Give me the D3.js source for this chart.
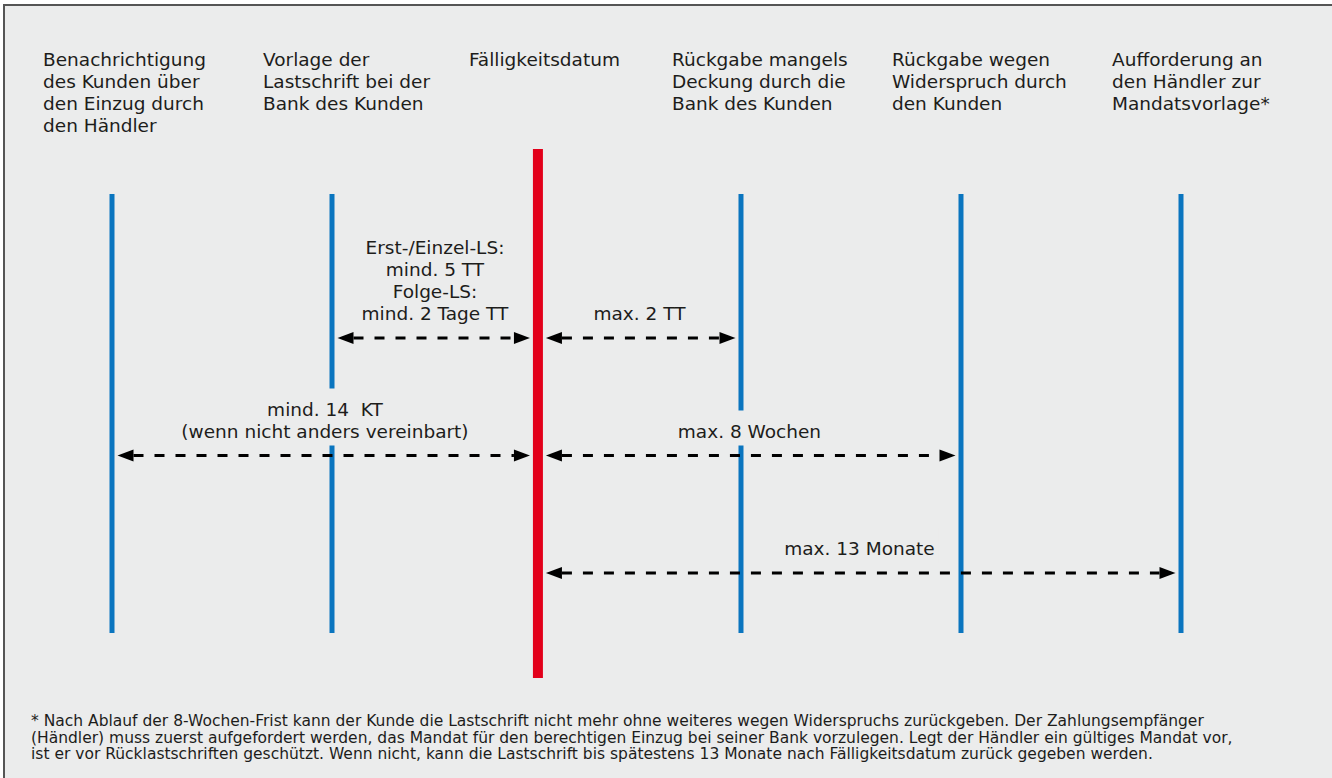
<!DOCTYPE html>
<html>
<head>
<meta charset="utf-8">
<script src="https://cdn.jsdelivr.net/npm/d3@7/dist/d3.min.js"></script>
<style>
  body { margin: 0; background: #fff; }
  text { font-family: "DejaVu Sans", sans-serif; fill: #1d1d1b; }
</style>
</head>
<body>
<svg id="chart"></svg>
<script>
// events on the timeline (relative position)
var eventPos = [0, 1, 1.936, 2.859, 3.859, 4.859];
var eventKind = ["blue", "blue", "red", "blue", "blue", "blue"];
var headers = [
  ["Benachrichtigung", "des Kunden über", "den Einzug durch", "den Händler"],
  ["Vorlage der", "Lastschrift bei der", "Bank des Kunden"],
  ["Fälligkeitsdatum"],
  ["Rückgabe mangels", "Deckung durch die", "Bank des Kunden"],
  ["Rückgabe wegen", "Widerspruch durch", "den Kunden"],
  ["Aufforderung an", "den Händler zur", "Mandatsvorlage*"]
];
// periods between events
var spanFrom = [1, 2, 0, 2, 2];
var spanTo = [2, 3, 2, 4, 5];
var spanRow = [0, 0, 1, 1, 2];
var spanLabels = [
  ["Erst-/Einzel-LS:", "mind. 5 TT", "Folge-LS:", "mind. 2 Tage TT"],
  ["max. 2 TT"],
  ["mind. 14  KT", "(wenn nicht anders vereinbart)"],
  ["max. 8 Wochen"],
  ["max. 13 Monate"]
];
var footnote = [
  "* Nach Ablauf der 8-Wochen-Frist kann der Kunde die Lastschrift nicht mehr ohne weiteres wegen Widerspruchs zurückgeben. Der Zahlungsempfänger",
  "(Händler) muss zuerst aufgefordert werden, das Mandat für den berechtigen Einzug bei seiner Bank vorzulegen. Legt der Händler ein gültiges Mandat vor,",
  "ist er vor Rücklastschriften geschützt. Wenn nicht, kann die Lastschrift bis spätestens 13 Monate nach Fälligkeitsdatum zurück gegeben werden."
];

var W = 1332, H = 778;
var bg = "#ebecec";
var colors = { blue: "#0a75bf", red: "#e2001a" };
var widths = { blue: 5, red: 10 };
var extent = { blue: [194, 633], red: [149, 678] };

var svg = d3.select("#chart").attr("width", W).attr("height", H);

// frame (right and bottom edges run off the picture)
svg.append("rect")
    .attr("x", 4).attr("y", 5)
    .attr("width", W + 50).attr("height", H + 50)
    .attr("fill", bg)
    .attr("stroke", "#555")
    .attr("stroke-width", 2);

var x = d3.scaleLinear().domain([0, 4.859]).range([112, 1181]);
var rowY = d3.scaleLinear().domain([0, 2]).range([338, 573]);

var events = eventPos.map(function(p, i) {
  return { pos: p, kind: eventKind[i], header: headers[i] };
});

// blue event lines first
svg.append("g").selectAll("line")
    .data(events.filter(function(d) { return d.kind == "blue"; }))
  .enter().append("line")
    .attr("x1", function(d) { return x(d.pos); })
    .attr("x2", function(d) { return x(d.pos); })
    .attr("y1", function(d) { return extent[d.kind][0]; })
    .attr("y2", function(d) { return extent[d.kind][1]; })
    .attr("stroke", function(d) { return colors[d.kind]; })
    .attr("stroke-width", function(d) { return widths[d.kind]; });

// header texts
var hdr = svg.append("g").selectAll("text")
    .data(events)
  .enter().append("text")
    .attr("x", function(d) { return x(d.pos) - 69; })
    .attr("y", 66)
    .style("font-size", "18.5px");
hdr.selectAll("tspan")
    .data(function(d) { return d.header; })
  .enter().append("tspan")
    .attr("x", function() { return d3.select(this.parentNode).attr("x"); })
    .attr("dy", function(d, i) { return i ? 22 : 0; })
    .text(function(d) { return d; });

// periods
var spans = spanFrom.map(function(f, i) {
  return { from: events[f], to: events[spanTo[i]], row: spanRow[i], label: spanLabels[i] };
});

function gap(ev) { return widths[ev.kind] / 2 + 3; }

var labelG = svg.append("g");
spans.forEach(function(s) {
  var mid = (x(s.from.pos) + x(s.to.pos)) / 2;
  var last = rowY(s.row) - 18;
  var first = last - 22 * (s.label.length - 1);
  var g = labelG.append("g");
  var bgRect = g.append("rect").attr("fill", bg);
  var t = g.append("text")
      .attr("text-anchor", "middle")
      .style("font-size", "18.5px")
      .style("white-space", "pre");
  t.selectAll("tspan")
      .data(s.label)
    .enter().append("tspan")
      .attr("x", mid)
      .attr("y", function(d, i) { return first + 22 * i; })
      .text(function(d) { return d; });
  var maxW = d3.max(t.selectAll("tspan").nodes(), function(n) { return n.getComputedTextLength(); });
  bgRect.attr("x", mid - maxW / 2 - 4)
      .attr("width", maxW + 8)
      .attr("y", first - 27)
      .attr("height", last - first + 35);
});

// dashed double arrows
var headL = 16, headH = 12;
var arrowG = svg.append("g");
spans.forEach(function(s) {
  var y = rowY(s.row);
  var a = x(s.from.pos) + gap(s.from), b = x(s.to.pos) - gap(s.to);
  arrowG.append("line")
      .attr("x1", a + headL).attr("x2", b - headL)
      .attr("y1", y).attr("y2", y)
      .attr("stroke", "#000")
      .attr("stroke-width", 3)
      .attr("stroke-dasharray", "10,11");
  arrowG.append("path")
      .attr("d", "M" + a + "," + y + "L" + (a + headL) + "," + (y - headH / 2) + "L" + (a + headL) + "," + (y + headH / 2) + "Z")
      .attr("fill", "#000");
  arrowG.append("path")
      .attr("d", "M" + b + "," + y + "L" + (b - headL) + "," + (y - headH / 2) + "L" + (b - headL) + "," + (y + headH / 2) + "Z")
      .attr("fill", "#000");
});

// due date line on top
svg.append("g").selectAll("line")
    .data(events.filter(function(d) { return d.kind == "red"; }))
  .enter().append("line")
    .attr("x1", function(d) { return x(d.pos); })
    .attr("x2", function(d) { return x(d.pos); })
    .attr("y1", function(d) { return extent[d.kind][0]; })
    .attr("y2", function(d) { return extent[d.kind][1]; })
    .attr("stroke", function(d) { return colors[d.kind]; })
    .attr("stroke-width", function(d) { return widths[d.kind]; });

// footnote
svg.append("g").selectAll("text")
    .data(footnote)
  .enter().append("text")
    .attr("x", 31)
    .attr("y", function(d, i) { return 726 + 16.5 * i; })
    .style("font-size", "15.5px")
    .text(function(d) { return d; });
</script>
</body>
</html>
